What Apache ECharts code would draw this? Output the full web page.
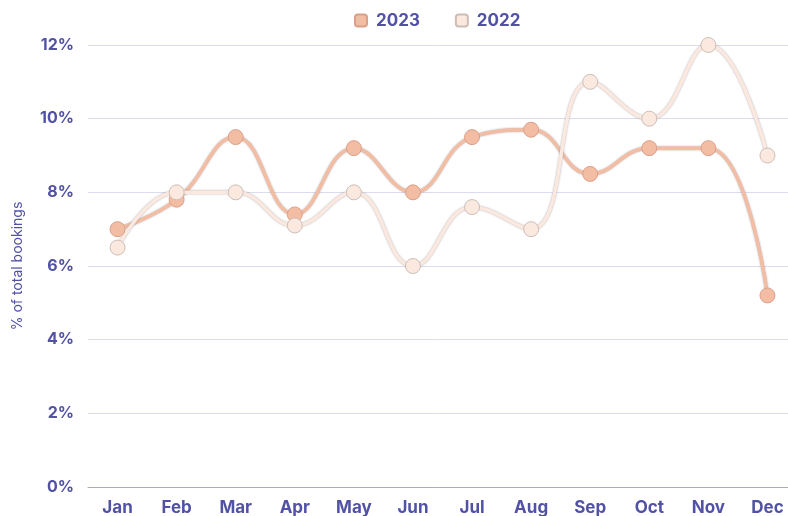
<!DOCTYPE html>
<html lang="en">
<head>
    <meta charset="UTF-8">
    <title>Bookings by month</title>
    <script src="https://cdn.jsdelivr.net/npm/echarts@6/dist/echarts.min.js"></script>
    <style>
        html, body {margin: 0; padding: 0; background: #fff;}
        #main {width: 788px; height: 516px;}
    </style>
</head>
<body>
    <div id="main"></div>
<script type="text/javascript">
    var months = ['Jan', 'Feb', 'Mar', 'Apr', 'May', 'Jun', 'Jul', 'Aug', 'Sep', 'Oct', 'Nov', 'Dec'];
    var bookings2023 = [7.0, 7.8, 9.5, 7.4, 9.2, 8.0, 9.5, 9.7, 8.5, 9.2, 9.2, 5.2];
    var bookings2022 = [6.5, 8.0, 8.0, 7.1, 8.0, 6.0, 7.6, 7.0, 11.0, 10.0, 12.0, 9.0];
    var yTicks = [0, 2, 4, 6, 8, 10, 12];

    var textColor = '#5151a6';
    var fontFamily = 'Inter, "Noto Sans", sans-serif';

    function lineSeries(name, data, color, edge) {
        return {
            name: name,
            type: 'line',
            data: data,
            smooth: 0.45,
            symbol: 'circle',
            symbolSize: 15,
            lineStyle: {
                color: color,
                width: 3.5,
                shadowColor: 'rgba(120,110,110,0.6)',
                shadowBlur: 2
            },
            itemStyle: {
                color: color,
                borderColor: edge,
                borderWidth: 1
            }
        };
    }

    var myChart = echarts.init(document.getElementById('main'));
    var option = {
        animation: false,
        textStyle: {fontFamily: fontFamily},
        legend: {
            top: 7,
            left: 349,
            itemWidth: 12,
            itemHeight: 12,
            itemGap: 35,
            icon: 'roundRect',
            textStyle: {color: textColor, fontSize: 17, fontWeight: 'bold', fontFamily: fontFamily, padding: [0, 0, 0, 4]},
            data: ['2023', '2022']
        },
        grid: {left: 88, top: 45, width: 709, bottom: 29, containLabel: false, outerBoundsMode: 'none'},
        xAxis: {
            type: 'category',
            data: months,
            boundaryGap: true,
            axisLine: {lineStyle: {color: '#a9a9cc'}},
            axisTick: {show: false},
            axisLabel: {color: textColor, fontSize: 17, fontWeight: 'bold', margin: 12, fontFamily: fontFamily}
        },
        yAxis: {
            type: 'value',
            min: yTicks[0],
            max: yTicks[yTicks.length - 1],
            interval: 2,
            name: '% of total bookings',
            nameLocation: 'middle',
            nameGap: 63,
            nameTextStyle: {color: textColor, fontSize: 14, fontFamily: fontFamily},
            axisLine: {show: false},
            axisTick: {show: false},
            splitLine: {lineStyle: {color: '#dcdcee', width: 1}},
            axisLabel: {
                color: textColor,
                fontSize: 16,
                fontWeight: 'bold',
                margin: 14,
                fontFamily: fontFamily,
                formatter: '{value}%'
            }
        },
        series: [
            lineSeries('2023', bookings2023, '#f3bda4', '#d9a08a'),
            lineSeries('2022', bookings2022, '#fbe9e0', '#cdbdb6')
        ]
    };
    myChart.setOption(option);
</script>
</body>
</html>
